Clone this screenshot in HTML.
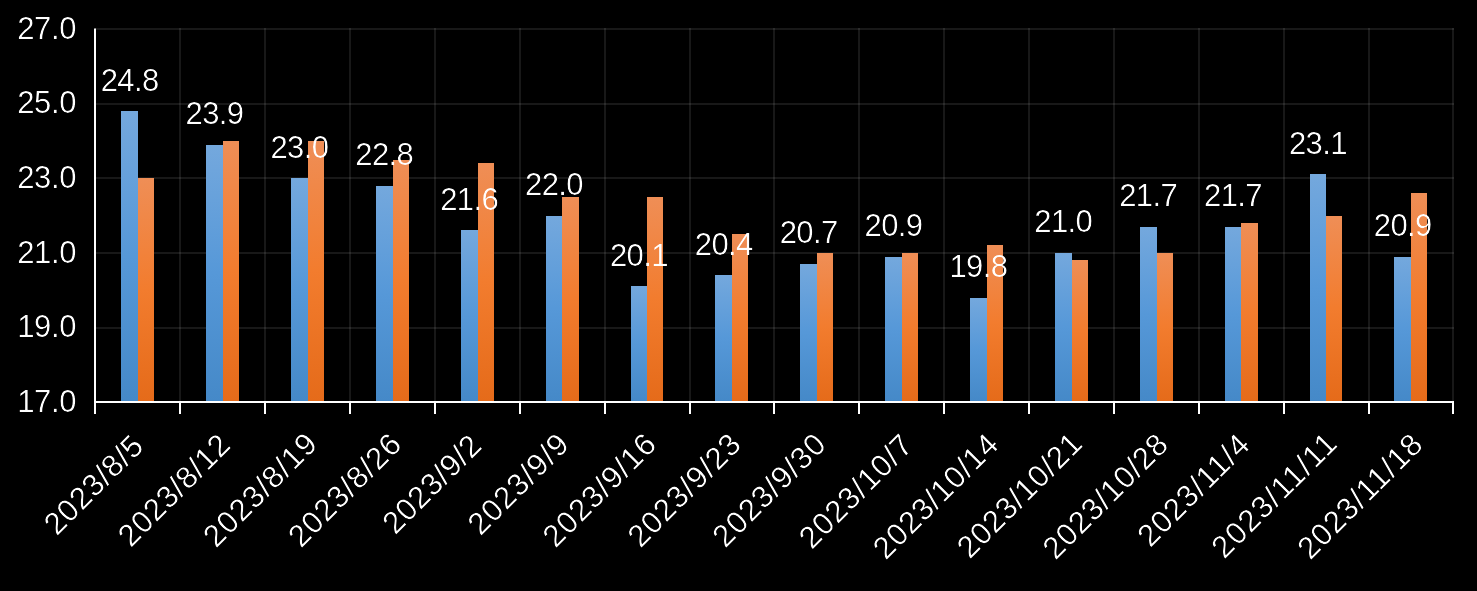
<!DOCTYPE html><html><head><meta charset="utf-8"><style>html,body{margin:0;padding:0;background:#000;width:1477px;height:591px;overflow:hidden}svg{display:block}text{font-family:"Liberation Sans",sans-serif}</style></head><body>
<svg width="1477" height="591" viewBox="0 0 1477 591">
<defs><linearGradient id="gb" x1="0" y1="0" x2="0" y2="1"><stop offset="0" stop-color="#74a8dd"/><stop offset="0.5" stop-color="#5698d8"/><stop offset="1" stop-color="#4589c8"/></linearGradient>
<linearGradient id="go" x1="0" y1="0" x2="0" y2="1"><stop offset="0" stop-color="#ef8e56"/><stop offset="0.5" stop-color="#f27c2e"/><stop offset="1" stop-color="#e56b1a"/></linearGradient></defs>
<rect width="1477" height="591" fill="#000"/>
<rect x="95.0" y="327" width="1359.0" height="2" fill="rgba(255,255,255,0.095)"/>
<rect x="95.0" y="252" width="1359.0" height="2" fill="rgba(255,255,255,0.095)"/>
<rect x="95.0" y="177" width="1359.0" height="2" fill="rgba(255,255,255,0.095)"/>
<rect x="95.0" y="103" width="1359.0" height="2" fill="rgba(255,255,255,0.095)"/>
<rect x="95.0" y="28" width="1359.0" height="2" fill="rgba(255,255,255,0.095)"/>
<rect x="179" y="28" width="2" height="373" fill="rgba(255,255,255,0.095)"/>
<rect x="264" y="28" width="2" height="373" fill="rgba(255,255,255,0.095)"/>
<rect x="349" y="28" width="2" height="373" fill="rgba(255,255,255,0.095)"/>
<rect x="434" y="28" width="2" height="373" fill="rgba(255,255,255,0.095)"/>
<rect x="519" y="28" width="2" height="373" fill="rgba(255,255,255,0.095)"/>
<rect x="604" y="28" width="2" height="373" fill="rgba(255,255,255,0.095)"/>
<rect x="689" y="28" width="2" height="373" fill="rgba(255,255,255,0.095)"/>
<rect x="773" y="28" width="2" height="373" fill="rgba(255,255,255,0.095)"/>
<rect x="858" y="28" width="2" height="373" fill="rgba(255,255,255,0.095)"/>
<rect x="943" y="28" width="2" height="373" fill="rgba(255,255,255,0.095)"/>
<rect x="1028" y="28" width="2" height="373" fill="rgba(255,255,255,0.095)"/>
<rect x="1113" y="28" width="2" height="373" fill="rgba(255,255,255,0.095)"/>
<rect x="1198" y="28" width="2" height="373" fill="rgba(255,255,255,0.095)"/>
<rect x="1283" y="28" width="2" height="373" fill="rgba(255,255,255,0.095)"/>
<rect x="1368" y="28" width="2" height="373" fill="rgba(255,255,255,0.095)"/>
<rect x="1452" y="28" width="2" height="373" fill="rgba(255,255,255,0.095)"/>
<rect x="121" y="111" width="17" height="290" fill="url(#gb)"/>
<rect x="138" y="178" width="16" height="223" fill="url(#go)"/>
<rect x="206" y="145" width="17" height="256" fill="url(#gb)"/>
<rect x="223" y="141" width="16" height="260" fill="url(#go)"/>
<rect x="291" y="178" width="17" height="223" fill="url(#gb)"/>
<rect x="308" y="141" width="16" height="260" fill="url(#go)"/>
<rect x="376" y="186" width="17" height="215" fill="url(#gb)"/>
<rect x="393" y="160" width="16" height="241" fill="url(#go)"/>
<rect x="461" y="230" width="17" height="171" fill="url(#gb)"/>
<rect x="478" y="163" width="16" height="238" fill="url(#go)"/>
<rect x="546" y="216" width="16" height="185" fill="url(#gb)"/>
<rect x="562" y="197" width="17" height="204" fill="url(#go)"/>
<rect x="631" y="286" width="16" height="115" fill="url(#gb)"/>
<rect x="647" y="197" width="16" height="204" fill="url(#go)"/>
<rect x="715" y="275" width="17" height="126" fill="url(#gb)"/>
<rect x="732" y="234" width="16" height="167" fill="url(#go)"/>
<rect x="800" y="264" width="17" height="137" fill="url(#gb)"/>
<rect x="817" y="253" width="16" height="148" fill="url(#go)"/>
<rect x="885" y="257" width="17" height="144" fill="url(#gb)"/>
<rect x="902" y="253" width="16" height="148" fill="url(#go)"/>
<rect x="970" y="298" width="17" height="103" fill="url(#gb)"/>
<rect x="987" y="245" width="16" height="156" fill="url(#go)"/>
<rect x="1055" y="253" width="17" height="148" fill="url(#gb)"/>
<rect x="1072" y="260" width="16" height="141" fill="url(#go)"/>
<rect x="1140" y="227" width="17" height="174" fill="url(#gb)"/>
<rect x="1157" y="253" width="16" height="148" fill="url(#go)"/>
<rect x="1225" y="227" width="16" height="174" fill="url(#gb)"/>
<rect x="1241" y="223" width="17" height="178" fill="url(#go)"/>
<rect x="1310" y="174" width="16" height="227" fill="url(#gb)"/>
<rect x="1326" y="216" width="16" height="185" fill="url(#go)"/>
<rect x="1394" y="257" width="17" height="144" fill="url(#gb)"/>
<rect x="1411" y="193" width="16" height="208" fill="url(#go)"/>
<rect x="94" y="28.5" width="2" height="385.5" fill="#fff"/>
<rect x="94" y="401" width="1360.0" height="2" fill="#fff"/>
<rect x="179" y="401" width="2" height="13" fill="#fff"/>
<rect x="264" y="401" width="2" height="13" fill="#fff"/>
<rect x="349" y="401" width="2" height="13" fill="#fff"/>
<rect x="434" y="401" width="2" height="13" fill="#fff"/>
<rect x="519" y="401" width="2" height="13" fill="#fff"/>
<rect x="604" y="401" width="2" height="13" fill="#fff"/>
<rect x="689" y="401" width="2" height="13" fill="#fff"/>
<rect x="773" y="401" width="2" height="13" fill="#fff"/>
<rect x="858" y="401" width="2" height="13" fill="#fff"/>
<rect x="943" y="401" width="2" height="13" fill="#fff"/>
<rect x="1028" y="401" width="2" height="13" fill="#fff"/>
<rect x="1113" y="401" width="2" height="13" fill="#fff"/>
<rect x="1198" y="401" width="2" height="13" fill="#fff"/>
<rect x="1283" y="401" width="2" height="13" fill="#fff"/>
<rect x="1368" y="401" width="2" height="13" fill="#fff"/>
<rect x="1452" y="401" width="2" height="13" fill="#fff"/>
<mask id="tm" maskUnits="userSpaceOnUse" x="0" y="0" width="1477" height="591"><g fill="#fff" stroke="#000" stroke-width="0.12">
<text x="76.0" y="411.5" font-size="31" letter-spacing="-0.4" text-anchor="end">17.0</text>
<text x="76.0" y="336.5" font-size="31" letter-spacing="-0.4" text-anchor="end">19.0</text>
<text x="76.0" y="262.5" font-size="31" letter-spacing="-0.4" text-anchor="end">21.0</text>
<text x="76.0" y="187.5" font-size="31" letter-spacing="-0.4" text-anchor="end">23.0</text>
<text x="76.0" y="112.5" font-size="31" letter-spacing="-0.4" text-anchor="end">25.0</text>
<text x="76.0" y="38.5" font-size="31" letter-spacing="-0.4" text-anchor="end">27.0</text>
<text x="129.69" y="91" font-size="31" letter-spacing="-0.6" text-anchor="middle">24.8</text>
<text x="214.56" y="124" font-size="31" letter-spacing="-0.6" text-anchor="middle">23.9</text>
<text x="299.44" y="158" font-size="31" letter-spacing="-0.6" text-anchor="middle">23.0</text>
<text x="384.31" y="165" font-size="31" letter-spacing="-0.6" text-anchor="middle">22.8</text>
<text x="469.19" y="210" font-size="31" letter-spacing="-0.6" text-anchor="middle">21.6</text>
<text x="554.06" y="195" font-size="31" letter-spacing="-0.6" text-anchor="middle">22.0</text>
<text x="638.94" y="266" font-size="31" letter-spacing="-0.6" text-anchor="middle">20.1</text>
<text x="723.81" y="255" font-size="31" letter-spacing="-0.6" text-anchor="middle">20.4</text>
<text x="808.69" y="243" font-size="31" letter-spacing="-0.6" text-anchor="middle">20.7</text>
<text x="893.56" y="236" font-size="31" letter-spacing="-0.6" text-anchor="middle">20.9</text>
<text x="978.44" y="277" font-size="31" letter-spacing="-0.6" text-anchor="middle">19.8</text>
<text x="1063.31" y="232" font-size="31" letter-spacing="-0.6" text-anchor="middle">21.0</text>
<text x="1148.19" y="206" font-size="31" letter-spacing="-0.6" text-anchor="middle">21.7</text>
<text x="1233.06" y="206" font-size="31" letter-spacing="-0.6" text-anchor="middle">21.7</text>
<text x="1317.94" y="154" font-size="31" letter-spacing="-0.6" text-anchor="middle">23.1</text>
<text x="1402.81" y="236" font-size="31" letter-spacing="-0.6" text-anchor="middle">20.9</text>
<g transform="translate(56.64 536.55) rotate(-45)"><text x="0" y="0" font-size="31" textLength="125.31" lengthAdjust="spacing">2023/8/5</text></g>
<g transform="translate(130.74 548.17) rotate(-45)"><text x="0" y="0" font-size="31" textLength="143.21" lengthAdjust="spacing">2023/8/12</text></g>
<g transform="translate(216.11 548.67) rotate(-45)"><text x="0" y="0" font-size="31" textLength="145.36" lengthAdjust="spacing">2023/8/19</text></g>
<g transform="translate(300.99 548.67) rotate(-45)"><text x="0" y="0" font-size="31" textLength="144.64" lengthAdjust="spacing">2023/8/26</text></g>
<g transform="translate(395.14 535.55) rotate(-45)"><text x="0" y="0" font-size="31" textLength="124.62" lengthAdjust="spacing">2023/9/2</text></g>
<g transform="translate(480.51 536.55) rotate(-45)"><text x="0" y="0" font-size="31" textLength="127.64" lengthAdjust="spacing">2023/9/9</text></g>
<g transform="translate(555.61 548.67) rotate(-45)"><text x="0" y="0" font-size="31" textLength="144.64" lengthAdjust="spacing">2023/9/16</text></g>
<g transform="translate(640.49 548.67) rotate(-45)"><text x="0" y="0" font-size="31" textLength="144.64" lengthAdjust="spacing">2023/9/23</text></g>
<g transform="translate(725.36 548.67) rotate(-45)"><text x="0" y="0" font-size="31" textLength="144.64" lengthAdjust="spacing">2023/9/30</text></g>
<g transform="translate(811.74 550.17) rotate(-45)"><text x="0" y="0" font-size="31" textLength="145.36" lengthAdjust="spacing">2023/10/7</text></g>
<g transform="translate(885.84 560.8) rotate(-45)"><text x="0" y="0" font-size="31" textLength="161.64" lengthAdjust="spacing">2023/10/14</text></g>
<g transform="translate(969.71 559.8) rotate(-45)"><text x="0" y="0" font-size="31" textLength="161.64" lengthAdjust="spacing">2023/10/21</text></g>
<g transform="translate(1055.59 560.8) rotate(-45)"><text x="0" y="0" font-size="31" textLength="161.64" lengthAdjust="spacing">2023/10/28</text></g>
<g transform="translate(1150.24 548.17) rotate(-45)"><text x="0" y="0" font-size="31" textLength="143.21" lengthAdjust="spacing">2023/11/4</text></g>
<g transform="translate(1224.34 559.8) rotate(-45)"><text x="0" y="0" font-size="31" textLength="161.64" lengthAdjust="spacing">2023/11/11</text></g>
<g transform="translate(1310.21 560.8) rotate(-45)"><text x="0" y="0" font-size="31" textLength="161.64" lengthAdjust="spacing">2023/11/18</text></g>
</g></mask><g mask="url(#tm)" fill="#fff">
<text x="76.0" y="411.5" font-size="31" letter-spacing="-0.4" text-anchor="end">17.0</text>
<text x="76.0" y="336.5" font-size="31" letter-spacing="-0.4" text-anchor="end">19.0</text>
<text x="76.0" y="262.5" font-size="31" letter-spacing="-0.4" text-anchor="end">21.0</text>
<text x="76.0" y="187.5" font-size="31" letter-spacing="-0.4" text-anchor="end">23.0</text>
<text x="76.0" y="112.5" font-size="31" letter-spacing="-0.4" text-anchor="end">25.0</text>
<text x="76.0" y="38.5" font-size="31" letter-spacing="-0.4" text-anchor="end">27.0</text>
<text x="129.69" y="91" font-size="31" letter-spacing="-0.6" text-anchor="middle">24.8</text>
<text x="214.56" y="124" font-size="31" letter-spacing="-0.6" text-anchor="middle">23.9</text>
<text x="299.44" y="158" font-size="31" letter-spacing="-0.6" text-anchor="middle">23.0</text>
<text x="384.31" y="165" font-size="31" letter-spacing="-0.6" text-anchor="middle">22.8</text>
<text x="469.19" y="210" font-size="31" letter-spacing="-0.6" text-anchor="middle">21.6</text>
<text x="554.06" y="195" font-size="31" letter-spacing="-0.6" text-anchor="middle">22.0</text>
<text x="638.94" y="266" font-size="31" letter-spacing="-0.6" text-anchor="middle">20.1</text>
<text x="723.81" y="255" font-size="31" letter-spacing="-0.6" text-anchor="middle">20.4</text>
<text x="808.69" y="243" font-size="31" letter-spacing="-0.6" text-anchor="middle">20.7</text>
<text x="893.56" y="236" font-size="31" letter-spacing="-0.6" text-anchor="middle">20.9</text>
<text x="978.44" y="277" font-size="31" letter-spacing="-0.6" text-anchor="middle">19.8</text>
<text x="1063.31" y="232" font-size="31" letter-spacing="-0.6" text-anchor="middle">21.0</text>
<text x="1148.19" y="206" font-size="31" letter-spacing="-0.6" text-anchor="middle">21.7</text>
<text x="1233.06" y="206" font-size="31" letter-spacing="-0.6" text-anchor="middle">21.7</text>
<text x="1317.94" y="154" font-size="31" letter-spacing="-0.6" text-anchor="middle">23.1</text>
<text x="1402.81" y="236" font-size="31" letter-spacing="-0.6" text-anchor="middle">20.9</text>
<g transform="translate(56.64 536.55) rotate(-45)"><text x="0" y="0" font-size="31" textLength="125.31" lengthAdjust="spacing">2023/8/5</text></g>
<g transform="translate(130.74 548.17) rotate(-45)"><text x="0" y="0" font-size="31" textLength="143.21" lengthAdjust="spacing">2023/8/12</text></g>
<g transform="translate(216.11 548.67) rotate(-45)"><text x="0" y="0" font-size="31" textLength="145.36" lengthAdjust="spacing">2023/8/19</text></g>
<g transform="translate(300.99 548.67) rotate(-45)"><text x="0" y="0" font-size="31" textLength="144.64" lengthAdjust="spacing">2023/8/26</text></g>
<g transform="translate(395.14 535.55) rotate(-45)"><text x="0" y="0" font-size="31" textLength="124.62" lengthAdjust="spacing">2023/9/2</text></g>
<g transform="translate(480.51 536.55) rotate(-45)"><text x="0" y="0" font-size="31" textLength="127.64" lengthAdjust="spacing">2023/9/9</text></g>
<g transform="translate(555.61 548.67) rotate(-45)"><text x="0" y="0" font-size="31" textLength="144.64" lengthAdjust="spacing">2023/9/16</text></g>
<g transform="translate(640.49 548.67) rotate(-45)"><text x="0" y="0" font-size="31" textLength="144.64" lengthAdjust="spacing">2023/9/23</text></g>
<g transform="translate(725.36 548.67) rotate(-45)"><text x="0" y="0" font-size="31" textLength="144.64" lengthAdjust="spacing">2023/9/30</text></g>
<g transform="translate(811.74 550.17) rotate(-45)"><text x="0" y="0" font-size="31" textLength="145.36" lengthAdjust="spacing">2023/10/7</text></g>
<g transform="translate(885.84 560.8) rotate(-45)"><text x="0" y="0" font-size="31" textLength="161.64" lengthAdjust="spacing">2023/10/14</text></g>
<g transform="translate(969.71 559.8) rotate(-45)"><text x="0" y="0" font-size="31" textLength="161.64" lengthAdjust="spacing">2023/10/21</text></g>
<g transform="translate(1055.59 560.8) rotate(-45)"><text x="0" y="0" font-size="31" textLength="161.64" lengthAdjust="spacing">2023/10/28</text></g>
<g transform="translate(1150.24 548.17) rotate(-45)"><text x="0" y="0" font-size="31" textLength="143.21" lengthAdjust="spacing">2023/11/4</text></g>
<g transform="translate(1224.34 559.8) rotate(-45)"><text x="0" y="0" font-size="31" textLength="161.64" lengthAdjust="spacing">2023/11/11</text></g>
<g transform="translate(1310.21 560.8) rotate(-45)"><text x="0" y="0" font-size="31" textLength="161.64" lengthAdjust="spacing">2023/11/18</text></g>
</g>
</svg></body></html>
